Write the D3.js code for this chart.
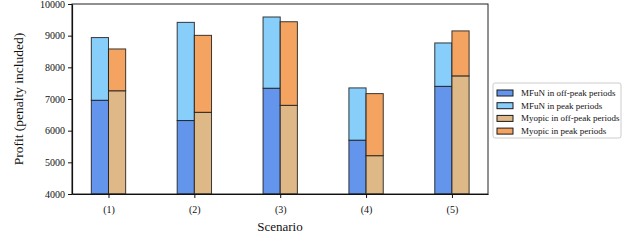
<!DOCTYPE html>
<html>
<head>
<meta charset="utf-8">
<script src="https://cdn.jsdelivr.net/npm/d3@7"></script>
<style>
  body { margin: 0; background: #fff; }
  text { font-family: "Liberation Serif", "DejaVu Serif", serif; }
</style>
</head>
<body>
<div id="graphic"></div>
<script>
// data
var scenarios = ['(1)', '(2)', '(3)', '(4)', '(5)'];
var mfunOffPeak = [6960, 6320, 7340, 5700, 7400];
var mfunTotal = [8940, 9420, 9590, 7350, 8770];
var myopicOffPeak = [7260, 6580, 6800, 5210, 7730];
var myopicTotal = [8580, 9010, 9440, 7170, 9150];
var yTicks = [4000, 5000, 6000, 7000, 8000, 9000, 10000];
var legendLabels = ['MFuN in off-peak periods', 'MFuN in peak periods', 'Myopic in off-peak periods', 'Myopic in peak periods'];
var colors = ['#6495ed', '#87cefa', '#deb887', '#f4a460'];

var margin = {top: 4, right: 152, bottom: 48, left: 72},
    width = 640 - margin.left - margin.right,
    height = 242 - margin.top - margin.bottom;

var svg = d3.select('#graphic')
    .append('svg')
    .attr('width', 640)
    .attr('height', 242)
    .append('g')
    .attr('transform', 'translate(' + margin.left + ',' + margin.top + ')');

// x in scenario index units, bars 0.2 wide
var x = d3.scaleLinear().domain([-0.425, 4.42]).range([0, width]);
var y = d3.scaleLinear().domain([4000, 10000]).range([height, 0]);
var barW = 0.2;

// bar rectangles: [scenario index, offset, bottom, top, colour]
var rects = [];
scenarios.forEach(function(s, i) {
  rects.push([i, -barW, 4000, mfunOffPeak[i], colors[0]]);
  rects.push([i, -barW, mfunOffPeak[i], mfunTotal[i], colors[1]]);
  rects.push([i, 0, 4000, myopicOffPeak[i], colors[2]]);
  rects.push([i, 0, myopicOffPeak[i], myopicTotal[i], colors[3]]);
});

svg.selectAll('rect.bar')
    .data(rects)
    .enter().append('rect')
    .attr('class', 'bar')
    .attr('x', function(d) { return x(d[0] + d[1]); })
    .attr('width', function(d) { return x(d[0] + d[1] + barW) - x(d[0] + d[1]); })
    .attr('y', function(d) { return y(d[3]); })
    .attr('height', function(d) { return y(d[2]) - y(d[3]); })
    .attr('fill', function(d) { return d[4]; })
    .attr('stroke', '#1a1a1a')
    .attr('stroke-opacity', 0.85)
    .attr('stroke-width', 1);

// frame
svg.append('rect')
    .attr('x', 0).attr('y', 0)
    .attr('width', width).attr('height', height)
    .attr('fill', 'none')
    .attr('stroke', '#222')
    .attr('stroke-width', 1);

// axes
var xAxis = svg.append('g')
    .attr('transform', 'translate(0,' + height + ')')
    .call(d3.axisBottom(x)
      .tickValues(d3.range(scenarios.length))
      .tickFormat(function(d) { return scenarios[d]; })
      .tickSize(4).tickSizeOuter(0));

var yAxis = svg.append('g')
    .call(d3.axisLeft(y)
      .tickValues(yTicks)
      .tickFormat(d3.format('d'))
      .tickSize(4).tickSizeOuter(0));

[xAxis, yAxis].forEach(function(a) {
  a.select('.domain').attr('stroke', '#111').attr('stroke-width', 1.2);
  a.selectAll('line').attr('stroke', '#111');
  a.selectAll('text')
    .style('font-family', '"Liberation Serif", serif')
    .style('font-size', '10px')
    .attr('fill', '#111');
});
xAxis.selectAll('text').attr('dy', '1.2em');

// axis labels
svg.append('text')
    .attr('x', width / 2)
    .attr('y', height + 37)
    .style('text-anchor', 'middle')
    .style('font-size', '13px')
    .attr('fill', '#111')
    .text('Scenario');

svg.append('text')
    .attr('transform', 'rotate(-90)')
    .attr('x', -height / 2)
    .attr('y', -49)
    .style('text-anchor', 'middle')
    .style('font-size', '13.5px')
    .attr('fill', '#111')
    .text('Profit (penalty included)');

// legend
var legend = svg.append('g')
    .attr('transform', 'translate(' + (width + 5) + ',79)');

legend.append('rect')
    .attr('width', 128).attr('height', 55)
    .attr('rx', 2)
    .attr('fill', '#fff')
    .attr('stroke', '#ccc');

legendLabels.forEach(function(l, i) {
  legend.append('rect')
      .attr('x', 4).attr('y', 7 + i * 12.7)
      .attr('width', 16).attr('height', 6)
      .attr('fill', colors[i])
      .attr('stroke', '#1a1a1a');
  legend.append('text')
      .attr('x', 28).attr('y', 13 + i * 12.7)
      .style('font-size', '9px')
      .attr('fill', '#111')
      .text(l);
});
</script>
</body>
</html>
